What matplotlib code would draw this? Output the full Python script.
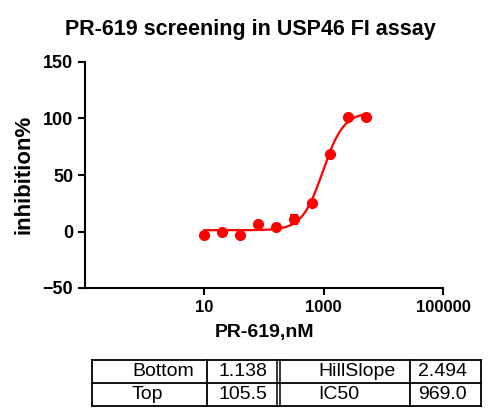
import numpy as np
import matplotlib.pyplot as plt

plt.rcParams['font.family'] = ['Liberation Sans', 'DejaVu Sans']

# data
conc = [10, 20, 40, 80, 160, 320, 640, 1280, 2560, 5120]
inhib = [-2.9, 0.0, -2.9, 6.5, 4.2, 11.0, 25.2, 68.7, 101.0, 101.0]
err = [0.5, 0.5, 0.5, 0.5, 0.5, 4.0, 0.8, 1.0, 0.5, 0.5]

# fit results (four-parameter logistic)
bottom, top, hill, ic50 = 1.138, 105.5, 2.494, 969.0
tab_names = [['Bottom', 'HillSlope'], ['Top', 'IC50']]
tab_vals = [['1.138', '2.494'], ['105.5', '969.0']]

fig = plt.figure(figsize=(5, 4.2), dpi=100)
W, H = 500, 420
ax = fig.add_axes([85 / W, 1 - 288 / H, 358 / W, 226 / H])

xx = np.logspace(np.log10(min(conc)), np.log10(max(conc)), 300)
yy = bottom + (top - bottom) / (1 + (ic50 / xx) ** hill)
ax.plot(xx, yy, color='#ff0000', lw=1.6)
ax.errorbar(conc, inhib, yerr=err, fmt='o', color='#ff0000', ms=7,
            capsize=3, elinewidth=1.5, capthick=1.5)

ax.set_xscale('log')
ax.set_xlim(0.1, 100000)
ax.set_ylim(-50, 150)
ax.set_xticks([10, 1000, 100000])
ax.set_xticklabels(['10', '1000', '100000'])
ax.minorticks_off()
ax.set_yticks([-50, 0, 50, 100, 150])
for s in ['top', 'right']:
    ax.spines[s].set_visible(False)
for s in ['left', 'bottom']:
    ax.spines[s].set_linewidth(1.5)
ax.tick_params(width=1.5, length=5)
ax.tick_params(axis='x', labelsize=12)
ax.tick_params(axis='y', labelsize=13)
for lab in ax.get_xticklabels() + ax.get_yticklabels():
    lab.set_fontweight('bold')
fig.text(264 / W, 1 - 333 / H, 'PR-619,nM', ha='center', va='center',
         fontsize=14, fontweight='bold')
fig.text(24 / W, 1 - 174 / H, 'inhibition%', ha='center', va='center',
         rotation=90, fontsize=16, fontweight='bold')
fig.text(0.5, 1 - 29 / H, 'PR-619 screening in USP46 FI assay',
         ha='center', va='center', fontsize=15.5, fontweight='bold')

# table
tx = fig.add_axes([0, 0, 1, 1])
tx.set_xlim(0, W)
tx.set_ylim(H, 0)
tx.axis('off')
x0, x1, x2, x3, x4 = 92, 207, 278, 410, 481
y0, y1, y2 = 360, 383, 406
for y in [y0, y1, y2]:
    tx.plot([x0, x4], [y, y], color='k', lw=1.3)
for x in [x0, x1, x3, x4]:
    tx.plot([x, x], [y0, y2], color='k', lw=1.3)
tx.plot([x2 - 1.5, x2 - 1.5], [y0, y2], color='k', lw=1.1)
tx.plot([x2 + 1.5, x2 + 1.5], [y0, y2], color='k', lw=1.1)
for r, yc in enumerate([(y0 + y1) / 2, (y1 + y2) / 2]):
    tx.text(132, yc, tab_names[r][0], ha='left', va='center', fontsize=14)
    tx.text(267, yc, tab_vals[r][0], ha='right', va='center', fontsize=14)
    tx.text(318, yc, tab_names[r][1], ha='left', va='center', fontsize=14)
    tx.text(467, yc, tab_vals[r][1], ha='right', va='center', fontsize=14)

fig.savefig('out.png', dpi=100)
